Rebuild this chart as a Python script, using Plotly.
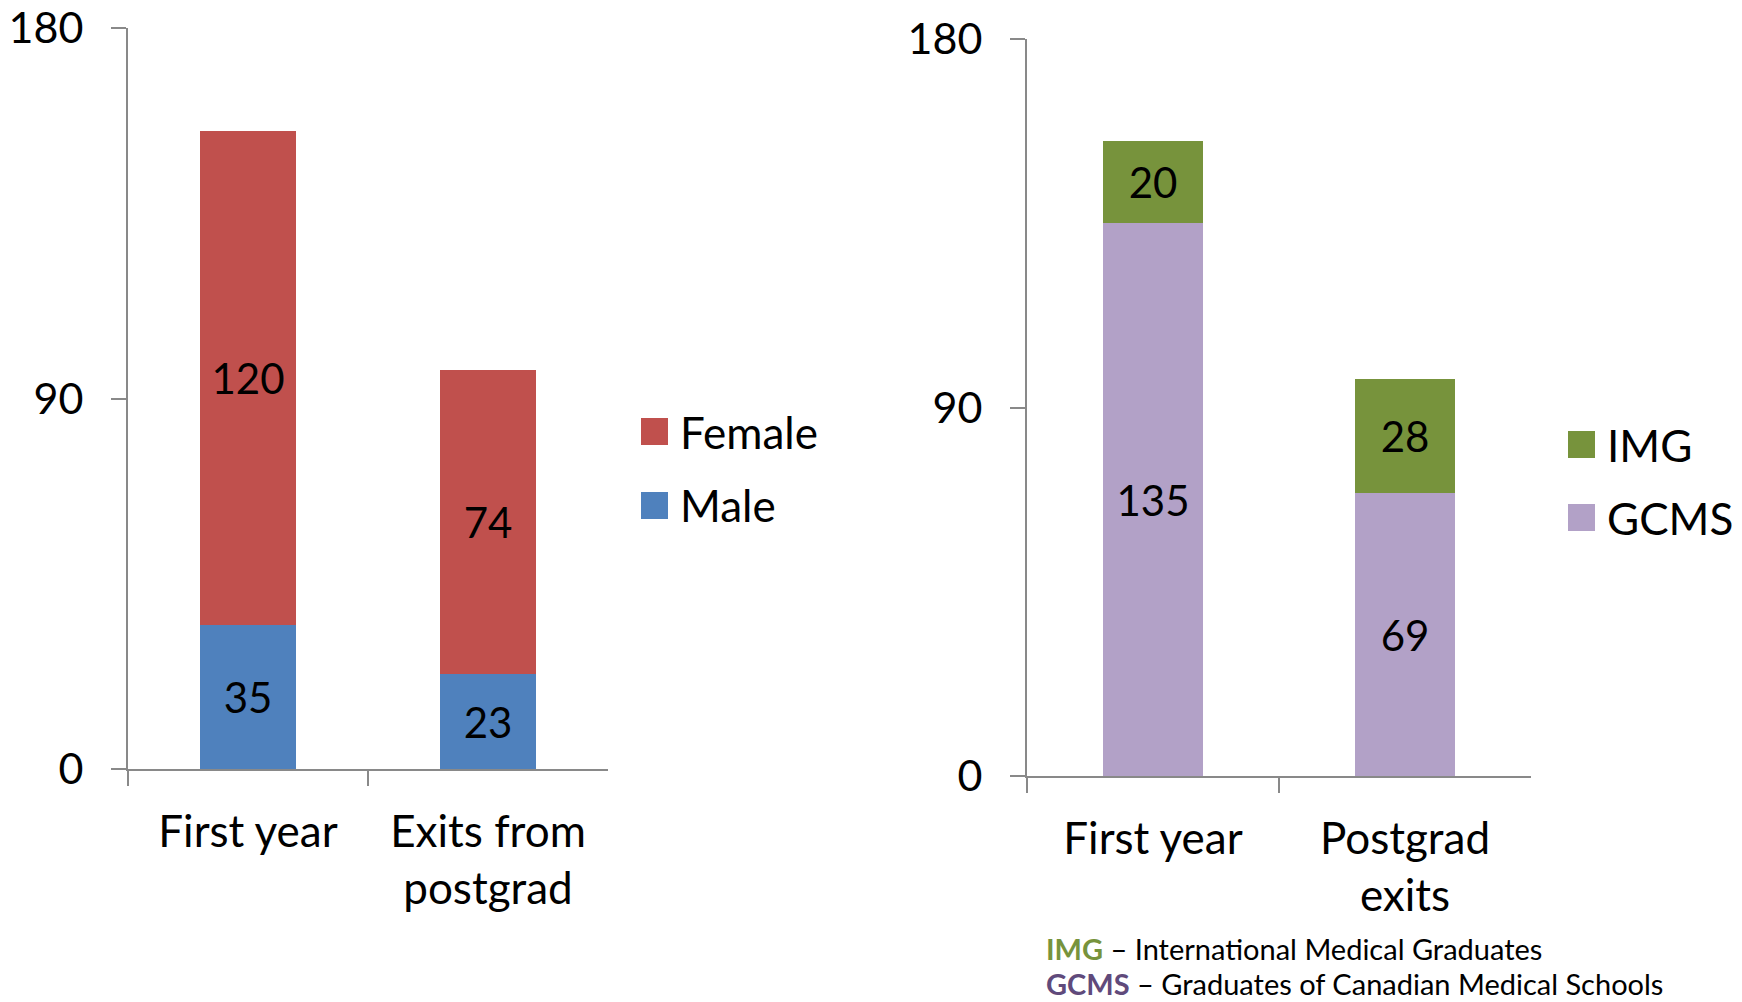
import plotly.graph_objects as go

# ---- data ----
gender_categories = ["First year", "Exits from<br>postgrad"]
male_values = [35, 23]
female_values = [120, 74]

origin_categories = ["First year", "Postgrad<br>exits"]
gcms_values = [135, 69]
img_values = [20, 28]

y_ticks = [0, 90, 180]

# ---- styling ----
FONT = "Lato"
COL_FEMALE = "#C0504D"
COL_MALE = "#4F81BD"
COL_IMG = "#77933C"
COL_GCMS = "#B2A1C7"
COL_GCMS_TEXT = "#604A7B"
AXIS_COL = "#898989"
W, H = 1742, 1002


def px_x(x):
    return x / W


def px_y(y):
    return 1 - y / H


fig = go.Figure()

bar_text = dict(textposition="inside", insidetextanchor="middle", textangle=0,
                constraintext="none",
                textfont=dict(family=FONT, size=42, color="black"))

fig.add_trace(go.Bar(x=gender_categories, y=male_values, name="Male",
                     marker=dict(color=COL_MALE, line=dict(width=0)),
                     text=male_values, xaxis="x", yaxis="y", showlegend=False, **bar_text))
fig.add_trace(go.Bar(x=gender_categories, y=female_values, name="Female",
                     marker=dict(color=COL_FEMALE, line=dict(width=0)),
                     text=female_values, xaxis="x", yaxis="y", showlegend=False, **bar_text))
fig.add_trace(go.Bar(x=origin_categories, y=gcms_values, name="GCMS",
                     marker=dict(color=COL_GCMS, line=dict(width=0)),
                     text=gcms_values, xaxis="x2", yaxis="y2", showlegend=False, **bar_text))
fig.add_trace(go.Bar(x=origin_categories, y=img_values, name="IMG",
                     marker=dict(color=COL_IMG, line=dict(width=0)),
                     text=img_values, xaxis="x2", yaxis="y2", showlegend=False, **bar_text))

xaxis_common = dict(type="category", showline=True, linecolor=AXIS_COL, linewidth=2,
                    ticks="outside", tickson="boundaries", ticklen=15, tickwidth=2,
                    tickcolor=AXIS_COL, showgrid=False, zeroline=False, automargin=False,
                    tickfont=dict(family=FONT, size=44, color="black"),
                    ticklabelstandoff=23, fixedrange=True)
yaxis_common = dict(range=[0, 180], tickvals=y_ticks, showline=True, linecolor=AXIS_COL,
                    linewidth=2, ticks="outside", ticklen=15, tickwidth=2,
                    tickcolor=AXIS_COL, showgrid=False, zeroline=False, automargin=False,
                    tickfont=dict(family=FONT, size=43, color="black"),
                    ticklabelstandoff=19, fixedrange=True)

fig.update_layout(
    width=W, height=H, autosize=False,
    margin=dict(l=0, r=0, t=0, b=0),
    paper_bgcolor="white", plot_bgcolor="white",
    barmode="stack", bargap=0.6,
    font=dict(family=FONT, color="black"),
    xaxis=dict(domain=[px_x(128), px_x(608)], anchor="y", **xaxis_common),
    yaxis=dict(domain=[px_y(769), px_y(28)], anchor="x", **yaxis_common),
    xaxis2=dict(domain=[px_x(1027), px_x(1531)], anchor="y2", **xaxis_common),
    yaxis2=dict(domain=[px_y(776), px_y(39)], anchor="x2", **yaxis_common),
)

# ---- hand-built legends (large swatches) ----
legend_items = [
    ("Female", COL_FEMALE, 641, 418),
    ("Male", COL_MALE, 641, 492),
    ("IMG", COL_IMG, 1568, 431),
    ("GCMS", COL_GCMS, 1568, 504),
]
SW = 27
for label, color, x0, y0 in legend_items:
    fig.add_shape(type="rect", xref="paper", yref="paper",
                  x0=px_x(x0), x1=px_x(x0 + SW), y0=px_y(y0 + SW), y1=px_y(y0),
                  fillcolor=color, line=dict(width=0))
    fig.add_annotation(xref="paper", yref="paper", x=px_x(x0 + SW + 10),
                       y=px_y(y0 + SW / 2), text=label, showarrow=False,
                       xanchor="left", yanchor="middle",
                       font=dict(family=FONT, size=44, color="black"))

# ---- abbreviation notes ----
notes = [
    (f"<b><span style='color:{COL_IMG}'>IMG</span></b> – International Medical Graduates", 948),
    (f"<b><span style='color:{COL_GCMS_TEXT}'>GCMS</span></b> – Graduates of Canadian Medical Schools", 983),
]
for text, yc in notes:
    fig.add_annotation(xref="paper", yref="paper", x=px_x(1044), y=px_y(yc),
                       text=text, showarrow=False, xanchor="left", yanchor="middle",
                       font=dict(family=FONT, size=29, color="black"))

fig.write_html("out.html", config={"displayModeBar": False})
